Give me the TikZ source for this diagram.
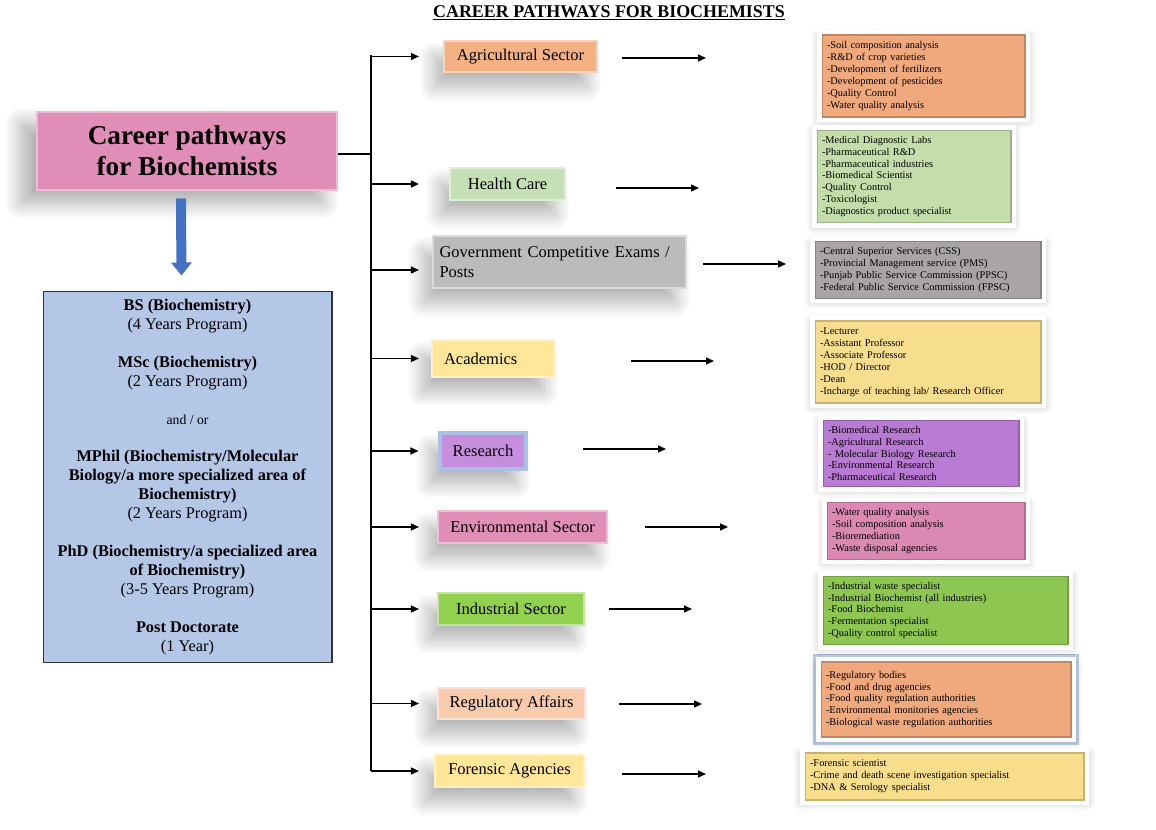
\documentclass[tikz,border=0pt]{standalone}
\usepackage{fontspec}
\setmainfont{Liberation Serif}
\usetikzlibrary{positioning,arrows.meta,shadows.blur}
\definecolor{pinkc}{HTML}{E08DB8}
\definecolor{educ}{HTML}{B4C7E7}
\definecolor{arrc}{HTML}{4472C4}
\definecolor{agric}{HTML}{F4B183}
\definecolor{healthc}{HTML}{C5E0B4}
\definecolor{govc}{HTML}{BDBABA}
\definecolor{acadc}{HTML}{FFE699}
\definecolor{resc}{HTML}{C68FDD}
\definecolor{indc}{HTML}{92D050}
\definecolor{regc}{HTML}{F8CBAD}
\definecolor{agrid}{HTML}{F0A97C}
\definecolor{healthd}{HTML}{C4DDAA}
\definecolor{govd}{HTML}{A9A5A5}
\definecolor{acadd}{HTML}{F7DD8E}
\definecolor{resd}{HTML}{B97AD3}
\definecolor{envd}{HTML}{DB88B3}
\definecolor{indd}{HTML}{8DC752}
\definecolor{forensd}{HTML}{F8DE8C}

\begin{document}
\begin{tikzpicture}[
  x=0.02cm, y=-0.02cm,
  cat/.style={fill=#1, draw=#1!55!white, line width=1.2pt, inner xsep=0.22cm,
    font=\fontsize{9.4}{11.3}\selectfont, align=center,
    blur shadow={shadow xshift=-0.2cm, shadow yshift=-0.3cm, shadow blur radius=0.3cm, shadow opacity=30, shadow blur steps=20}},
  det/.style={blur shadow={shadow xshift=0cm, shadow yshift=-0.04cm, shadow blur radius=0.16cm, shadow opacity=25, shadow scale=1.03, shadow blur steps=16},
    preaction={draw=white, line width=0.2cm},
    fill=#1, draw=#1!80!black, line width=0.6pt, inner xsep=0.1cm, align=left,
    font=\fontsize{5.9}{6.8}\selectfont},
  arr/.style={-{Triangle[length=0.16cm, width=0.14cm]}, line width=0.8pt},
  link/.style={line width=0.8pt},
  bluearr/.style={line width=0.2cm, draw=arrc, -{Triangle[length=0.26cm, width=0.4cm]}, shorten <=0.14cm, shorten >=0.3cm}]
  \useasboundingbox (0,0) rectangle (1156,830);

  \node[font=\fontsize{10.2}{12}\selectfont\bfseries] (title) at (609,13) {\underline{CAREER PATHWAYS FOR BIOCHEMISTS}};

  % left column
  \node[fill=pinkc, draw=pinkc!60!white, line width=1.5pt, minimum width=6cm, minimum height=1.56cm,
    align=center, font=\fontsize{15.5}{17.6}\selectfont\bfseries,
    blur shadow={shadow xshift=-0.3cm, shadow yshift=-0.25cm, shadow blur radius=0.35cm, shadow opacity=35, shadow blur steps=20}]
    (main) at (187,151) {Career pathways\\for Biochemists};
  \node[fill=educ, draw=black!80, line width=0.6pt, minimum width=5.78cm, minimum height=7.44cm,
    align=center, font=\fontsize{9.3}{10.8}\selectfont] (edu) at (187.5,477)
    {\textbf{BS (Biochemistry)}\\(4 Years Program)\\[10.8pt]
     \textbf{MSc (Biochemistry)}\\(2 Years Program)\\[10.8pt]
     {\fontsize{7.8}{10.8}\selectfont and / or}\\[10.8pt]
     \textbf{MPhil (Biochemistry/Molecular}\\\textbf{Biology/a more specialized area of}\\\textbf{Biochemistry)}\\(2 Years Program)\\[10.8pt]
     \textbf{PhD (Biochemistry/a specialized area}\\\textbf{of Biochemistry)}\\(3-5 Years Program)\\[10.8pt]
     \textbf{Post Doctorate}\\(1 Year)};
  \draw[bluearr] ([xshift=-0.12cm]main.south) -- ([xshift=-0.12cm]edu.north);

  % sectors
  \node[cat=agric, minimum width=3.06cm, minimum height=0.62cm] (agri) at (520.5,56.5) {Agricultural Sector};
  \node[cat=healthc, minimum width=2.3cm, minimum height=0.64cm] (health) at (507.5,184) {Health Care};
  \node[cat=govc, inner xsep=0.13cm, text width=4.8cm, align=left, minimum height=1.04cm] (gov) at (559.5,262) {Government Competitive Exams /\\Posts};
  \node[cat=acadc, inner xsep=0.24cm, text width=1.96cm, align=left, minimum height=0.74cm] (acad) at (493,358.5) {Academics};
  \node[cat=resc, draw=arrc!45!white, line width=1.8pt, minimum width=1.72cm, minimum height=0.72cm] (res) at (483,451) {Research};
  \node[cat=pinkc, minimum width=3.38cm, minimum height=0.64cm] (env) at (522.5,527) {Environmental Sector};
  \node[cat=indc, minimum width=2.92cm, minimum height=0.64cm] (ind) at (511,609) {Industrial Sector};
  \node[cat=regc, minimum width=2.94cm, minimum height=0.62cm] (reg) at (511.5,703.5) {Regulatory Affairs};
  \node[cat=acadc, minimum width=2.98cm, minimum height=0.64cm] (fors) at (509.5,771) {Forensic Agencies};

  % trunk
  \coordinate (tk) at (371,154);
  \coordinate (tktop) at (371,55);
  \coordinate (tkbot) at (371,771);
  \draw[link] ([yshift=-0.06cm]main.east) -- ([yshift=-0.06cm]main.east -| tk);
  \draw[link] (tktop) -- (tkbot);
  \draw[arr, shorten >=0.48cm] (agri.west -| tk) -- (agri.west);
  \draw[arr, shorten >=0.6cm] (health.west -| tk) -- (health.west);
  \draw[arr, shorten >=0.26cm] ([yshift=-0.16cm]gov.west -| tk) -- ([yshift=-0.16cm]gov.west);
  \draw[arr, shorten >=0.24cm] (acad.west -| tk) -- (acad.west);
  \draw[arr, shorten >=0.4cm] (res.west -| tk) -- (res.west);
  \draw[arr, shorten >=0.36cm] (env.west -| tk) -- (env.west);
  \draw[arr, shorten >=0.36cm] (ind.west -| tk) -- (ind.west);
  \draw[arr, shorten >=0.36cm] (reg.west -| tk) -- (reg.west);
  \draw[arr, shorten >=0.3cm] (fors.west -| tk) -- (fors.west);

  % details
  \node[det=agrid, text width=3.86cm, minimum height=1.64cm] (agrdet) at (923.5,76)
    {-Soil composition analysis\\-R\&D of crop varieties\\-Development of fertilizers\\-Development of pesticides\\-Quality Control\\-Water quality analysis};
  \node[det=healthd, text width=3.68cm, minimum height=1.74cm] (hcdet) at (914,176.5)
    {-Medical Diagnostic Labs\\-Pharmaceutical R\&D\\-Pharmaceutical industries\\-Biomedical Scientist\\-Quality Control\\-Toxicologist\\-Diagnostics product specialist};
  \node[det=govd, text width=4.32cm, minimum height=1.08cm] (govdet) at (928,270)
    {-Central Superior Services (CSS)\\-Provincial Management service (PMS)\\-Punjab Public Service Commission (PPSC)\\-Federal Public Service Commission (FPSC)};
  \node[det=acadd, text width=4.32cm, minimum height=1.64cm] (acdet) at (928,362)
    {-Lecturer\\-Assistant Professor\\-Associate Professor\\-HOD / Director\\-Dean\\-Incharge of teaching lab/ Research Officer};
  \node[det=resd, text width=3.72cm, minimum height=1.3cm] (resdet) at (921,453.5)
    {-Biomedical Research\\-Agricultural Research\\- Molecular Biology Research\\-Environmental Research\\-Pharmaceutical Research};
  \node[det=envd, text width=3.76cm, minimum height=1.08cm] (envdet) at (926,531)
    {-Water quality analysis\\-Soil composition analysis\\-Bioremediation\\-Waste disposal agencies};
  \node[det=indd, text width=4.7cm, minimum height=1.3cm] (inddet) at (945.5,610.5)
    {-Industrial waste specialist\\-Industrial Biochemist (all industries)\\-Food Biochemist\\-Fermentation specialist\\-Quality control specialist};
  \node[preaction={draw=arrc!35!white, line width=0.34cm}, det=agrid, text width=4.8cm, minimum height=1.5cm] (regdet) at (946,699.5)
    {-Regulatory bodies\\-Food and drug agencies\\-Food quality regulation authorities\\-Environmental monitories agencies\\-Biological waste regulation authorities};
  \node[det=forensd, text width=5.38cm, minimum height=0.94cm] (fordet) at (944.5,776.5)
    {-Forensic scientist\\-Crime and death scene investigation specialist\\-DNA \& Serology specialist};

  % free arrows between the columns
  \coordinate (s1) at (622,58);  \coordinate (e1) at (706,58);
  \coordinate (s2) at (616,188); \coordinate (e2) at (699,188);
  \coordinate (s3) at (703,264); \coordinate (e3) at (786,264);
  \coordinate (s4) at (631,361); \coordinate (e4) at (714,361);
  \coordinate (s5) at (583,449); \coordinate (e5) at (666,449);
  \coordinate (s6) at (645,527); \coordinate (e6) at (728,527);
  \coordinate (s7) at (609,609); \coordinate (e7) at (692,609);
  \coordinate (s8) at (619,704); \coordinate (e8) at (702,704);
  \coordinate (s9) at (622,774); \coordinate (e9) at (706,774);
  \draw[arr] (s1) -- (e1);
  \draw[arr] (s2) -- (e2);
  \draw[arr] (s3) -- (e3);
  \draw[arr] (s4) -- (e4);
  \draw[arr] (s5) -- (e5);
  \draw[arr] (s6) -- (e6);
  \draw[arr] (s7) -- (e7);
  \draw[arr] (s8) -- (e8);
  \draw[arr] (s9) -- (e9);
\end{tikzpicture}
\end{document}
